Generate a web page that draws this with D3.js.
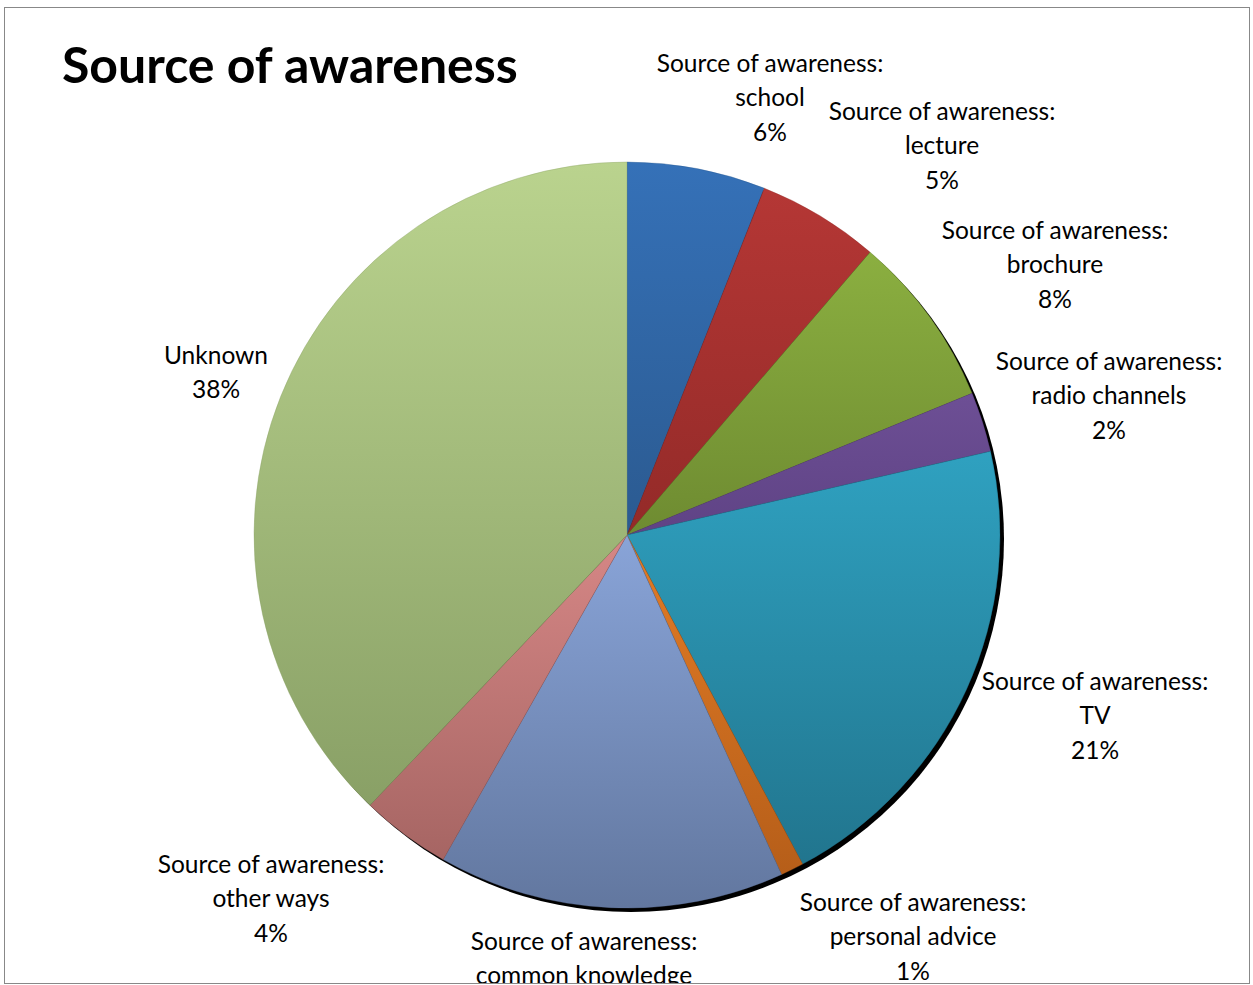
<!DOCTYPE html>
<html><head><meta charset="utf-8">
<script src="https://cdn.jsdelivr.net/npm/d3@7"></script>
<style>body{margin:0;background:#fff}svg{display:block}</style>
</head><body>
<script>
const categories = ["Source of awareness: school","Source of awareness: lecture","Source of awareness: brochure","Source of awareness: radio channels","Source of awareness: TV","Source of awareness: personal advice","Source of awareness: common knowledge","Source of awareness: other ways","Unknown"];
const values = [6.0, 5.3, 7.5, 2.6, 20.8, 1.0, 15.0, 3.9, 37.9];
const percentLabels = ["6%","5%","8%","2%","21%","1%","15%","4%","38%"];
const topColors = ["#3571B8","#B53735","#8BAF40","#6D4F95","#2FA1C0","#E27C26","#89A4D8","#D68786","#BAD38E"];
const bottomColors = ["#2B5A90","#932A28","#6E8B31","#5F4385","#21758E","#B65E19","#62779F","#A66563","#89A066"];
const labelPos = [[770,63],[942,111],[1055,230],[1109,361],[1095,681],[913,902],[584,941],[271,864],[216,355]];

const W=1253,H=985;
const svg=d3.select("body").append("svg").attr("width",W).attr("height",H);
const defs=svg.append("defs");
defs.append("clipPath").attr("id","clip").append("rect").attr("x",5).attr("y",7).attr("width",1245).attr("height",976);
const cx=627,cy=535,r=373;
categories.forEach((c,i)=>{
  const g=defs.append("linearGradient").attr("id","g"+i).attr("x1",0).attr("y1",0).attr("x2",0).attr("y2",1);
  g.append("stop").attr("offset","0%").attr("stop-color",topColors[i]);
  g.append("stop").attr("offset","100%").attr("stop-color",bottomColors[i]);
});
svg.append("rect").attr("x",4.5).attr("y",7.5).attr("width",1245).attr("height",976).attr("fill","#fff").attr("stroke","#888").attr("stroke-width",1);
const root=svg.append("g").attr("clip-path","url(#clip)");
root.append("text").attr("x",62).attr("y",83).attr("font-family","Lato, 'Open Sans', sans-serif").attr("font-weight","bold").attr("font-size",50).text("Source of awareness");

const pie=d3.pie().sort(null).value(d=>d)(values);
const arc=d3.arc().innerRadius(0).outerRadius(r);
// shadow
root.append("circle").attr("cx",cx+4).attr("cy",cy+4).attr("r",r).attr("fill","#000");
const pg=root.append("g").attr("transform",`translate(${cx},${cy})`);
pg.selectAll("path").data(pie).join("path").attr("d",arc)
  .attr("fill",(d,i)=>`url(#g${i})`).attr("stroke",(d,i)=>bottomColors[i]).attr("stroke-opacity",0.6).attr("stroke-width",0.6);

const lg=root.append("g").attr("font-family","Lato, 'Open Sans', sans-serif").attr("font-size",24.5).attr("fill","#000").attr("text-anchor","middle");
categories.forEach((c,i)=>{
  let lines;
  if(c.indexOf(": ")>=0){const p=c.split(": ");lines=[p[0]+":",p[1],percentLabels[i]];}
  else lines=[c,percentLabels[i]];
  const [x,y]=labelPos[i];
  lines.forEach((l,j)=>{
    lg.append("text").attr("x",x).attr("y",y+j*34.5).attr("dy","0.35em").text(l);
  });
});
</script>
</body></html>
